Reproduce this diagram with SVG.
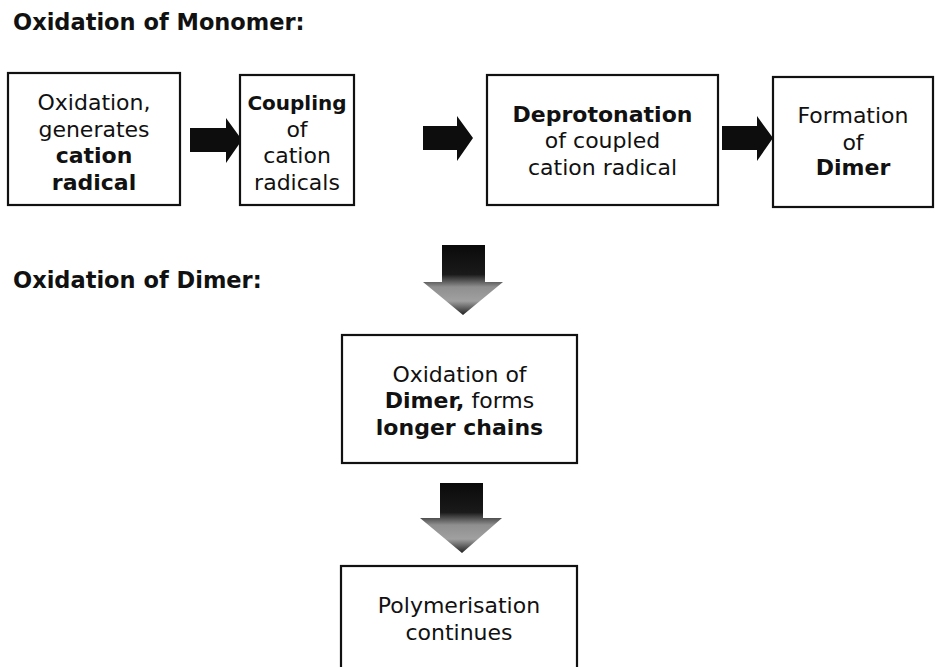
<svg xmlns="http://www.w3.org/2000/svg" width="935" height="667" viewBox="0 0 935 667">
  <defs>
    <style>
      .box { fill: #ffffff; stroke: #111111; stroke-width: 2.2; }
      .t { font-family: "DejaVu Sans", Verdana, sans-serif; font-size: 22px; fill: #111111; text-anchor: middle; }
      .b { font-weight: bold; }
      .hdr { font-family: "DejaVu Sans", Verdana, sans-serif; font-size: 22.5px; font-weight: bold; fill: #111111; }
      .rarrow { fill: #0d0d0d; }
    </style>
    <linearGradient id="downFill" x1="0" y1="0" x2="0" y2="1">
      <stop offset="0" stop-color="#0a0a0a"/>
      <stop offset="0.42" stop-color="#1a1a1a"/>
      <stop offset="0.6" stop-color="#8f8f8f"/>
      <stop offset="0.8" stop-color="#a0a0a0"/>
      <stop offset="1" stop-color="#222222"/>
    </linearGradient>
  </defs>

  <!-- section headings -->
  <text class="hdr" x="13" y="30">Oxidation of Monomer:</text>
  <text class="hdr" x="13" y="288">Oxidation of Dimer:</text>

  <!-- connectors -->
  <g id="connectors">
    <path class="rarrow" d="M190,128 H226 V118 L242,140 L226,163 V152 H190 Z"/>
    <path class="rarrow" d="M423,126 H457 V116 L473,138 L457,161 V150 H423 Z"/>
    <path class="rarrow" d="M722,126 H757 V116 L773,138 L757,161 V150 H722 Z"/>
    <path fill="url(#downFill)" d="M442,245 H485 V282 H503 L463,315 L423,282 H442 Z"/>
    <path fill="url(#downFill)" d="M440,483 H483 V518 H502 L462,553 L420,518 H440 Z"/>
  </g>

  <g id="oxidation">
    <rect class="box" x="8" y="73" width="172" height="132"/>
    <text class="t" x="94" y="110">Oxidation,</text>
    <text class="t" x="94" y="137">generates</text>
    <text class="t b" x="94" y="163">cation</text>
    <text class="t b" x="94" y="190">radical</text>
  </g>

  <g id="coupling">
    <rect class="box" x="240" y="75" width="114" height="130"/>
    <text class="t b" x="297" y="110" style="font-size:20px">Coupling</text>
    <text class="t" x="297" y="137">of</text>
    <text class="t" x="297" y="163">cation</text>
    <text class="t" x="297" y="190">radicals</text>
  </g>

  <g id="deprotonation">
    <rect class="box" x="487" y="75" width="231" height="130"/>
    <text class="t b" x="602.5" y="122">Deprotonation</text>
    <text class="t" x="602.5" y="148">of coupled</text>
    <text class="t" x="602.5" y="175">cation radical</text>
  </g>

  <g id="dimer">
    <rect class="box" x="773" y="77" width="160" height="130"/>
    <text class="t" x="853" y="123">Formation</text>
    <text class="t" x="853" y="150">of</text>
    <text class="t b" x="853" y="175">Dimer</text>
  </g>

  <g id="dimer-oxidation">
    <rect class="box" x="342" y="335" width="235" height="128"/>
    <text class="t" x="459.5" y="382">Oxidation of</text>
    <text class="t" x="459.5" y="408"><tspan class="b">Dimer,</tspan> forms</text>
    <text class="t b" x="459.5" y="435">longer chains</text>
  </g>

  <g id="polymerisation">
    <rect class="box" x="341" y="566" width="236" height="110"/>
    <text class="t" x="459" y="613">Polymerisation</text>
    <text class="t" x="459" y="640">continues</text>
  </g>
</svg>
